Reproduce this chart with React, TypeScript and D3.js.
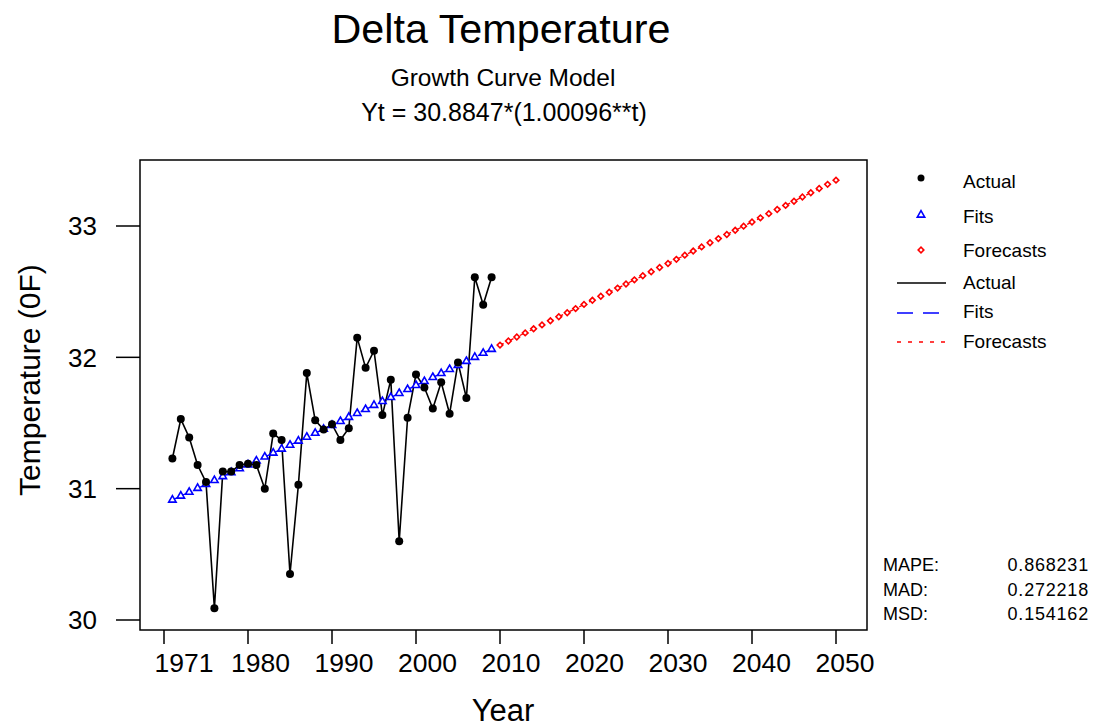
import React from "react";
import * as d3 from "d3";

const actualYears: number[] = d3.range(1971, 2010);
const actualValues: number[] = [
  31.23, 31.53, 31.39, 31.18, 31.05, 30.09, 31.13, 31.13, 31.18, 31.19,
  31.18, 31.0, 31.42, 31.37, 30.35, 31.03, 31.88, 31.52, 31.45, 31.49,
  31.37, 31.46, 32.15, 31.92, 32.05, 31.56, 31.83, 30.6, 31.54, 31.87,
  31.77, 31.61, 31.81, 31.57, 31.96, 31.69, 32.61, 32.4, 32.61,
];
const fitValues: number[] = [
  30.914, 30.944, 30.974, 31.003, 31.033, 31.063, 31.093, 31.123, 31.153, 31.182,
  31.212, 31.242, 31.272, 31.302, 31.332, 31.363, 31.393, 31.423, 31.453, 31.483,
  31.513, 31.544, 31.574, 31.604, 31.635, 31.665, 31.695, 31.726, 31.756, 31.787,
  31.817, 31.848, 31.878, 31.909, 31.94, 31.97, 32.001, 32.032, 32.062,
];
const forecastYears: number[] = d3.range(2010, 2051);
const forecastValues: number[] = [
  32.093, 32.124, 32.155, 32.186, 32.217, 32.247, 32.278, 32.309, 32.34, 32.371,
  32.403, 32.434, 32.465, 32.496, 32.527, 32.558, 32.59, 32.621, 32.652, 32.684,
  32.715, 32.746, 32.778, 32.809, 32.841, 32.872, 32.904, 32.935, 32.967, 32.999,
  33.03, 33.062, 33.094, 33.126, 33.157, 33.189, 33.221, 33.253, 33.285, 33.317,
  33.349,
];
const xTickPositions: number[] = [1970, 1980, 1990, 2000, 2010, 2020, 2030, 2040, 2050];
const xTickLabels: string[] = ["1971", "1980", "1990", "2000", "2010", "2020", "2030", "2040", "2050"];
const yTicks: number[] = [30, 31, 32, 33];
const statLabels: string[] = ["MAPE:", "MAD:", "MSD:"];
const statValues: string[] = ["0.868231", "0.272218", "0.154162"];

const FONT = "'Liberation Sans', Arial, Helvetica, sans-serif";

export default function App() {
  const W = 1098;
  const H = 728;
  const frame = { left: 140, right: 867, top: 160, bottom: 630 };
  const x = d3.scaleLinear().domain([1970, 2050]).range([164, 836]);
  const y = d3.scaleLinear().domain([30, 33]).range([620, 226]);

  const line = d3
    .line<[number, number]>()
    .x((d) => x(d[0]))
    .y((d) => y(d[1]));

  const actualPts: [number, number][] = actualYears.map((yr, i) => [yr, actualValues[i]]);
  const fitPts: [number, number][] = actualYears.map((yr, i) => [yr, fitValues[i]]);
  const fcPts: [number, number][] = forecastYears.map((yr, i) => [yr, forecastValues[i]]);

  const tri = d3.symbol().type(d3.symbolTriangle).size(24)() as string;
  const dia = d3.symbol().type(d3.symbolSquare).size(16)() as string;

  const legendMarkX = 921;
  const legendTextX = 963;

  return (
    <svg
      width={W}
      height={H}
      style={{ position: "absolute", left: 0, top: 0, background: "#fff" }}
      fontFamily={FONT}
    >
      <rect x={0} y={0} width={W} height={H} fill="#fff" />
      {/* Titles */}
      <text x={501} y={43} fontSize={41.3} textAnchor="middle" fill="#000">
        Delta Temperature
      </text>
      <text x={503} y={86} fontSize={24.5} textAnchor="middle" fill="#000">
        Growth Curve Model
      </text>
      <text x={504} y={121} fontSize={25} textAnchor="middle" fill="#000">
        Yt = 30.8847*(1.00096**t)
      </text>

      {/* Frame */}
      <rect
        x={frame.left}
        y={frame.top}
        width={frame.right - frame.left}
        height={frame.bottom - frame.top}
        fill="none"
        stroke="#000"
        strokeWidth={1.5}
      />

      {/* Y axis ticks */}
      {yTicks.map((t) => (
        <g key={"y" + t}>
          <line x1={116} x2={frame.left} y1={y(t)} y2={y(t)} stroke="#000" strokeWidth={1.5} />
          <text x={97} y={y(t)} dy="0.36em" fontSize={26} textAnchor="end" fill="#000">
            {t}
          </text>
        </g>
      ))}

      {/* X axis ticks */}
      {xTickPositions.map((t, i) => (
        <g key={"x" + t}>
          <line x1={x(t)} x2={x(t)} y1={frame.bottom} y2={frame.bottom + 14} stroke="#000" strokeWidth={1.5} />
          <text x={x(t) + (i === 0 ? 20 : 13 - i * 0.5)} y={672} fontSize={26.5} textAnchor="middle" fill="#000">
            {xTickLabels[i]}
          </text>
        </g>
      ))}

      {/* Axis titles */}
      <text x={503} y={721} fontSize={31} textAnchor="middle" fill="#000">
        Year
      </text>
      <text
        transform={`translate(40, 380) rotate(-90)`}
        fontSize={30}
        textAnchor="middle"
        fill="#000"
      >
        Temperature (0F)
      </text>

      {/* Fits line + markers */}
      <path d={line(fitPts) || ""} fill="none" stroke="#0000ff" strokeWidth={1.3} strokeDasharray="16,10" />
      {/* Forecast line */}
      <path d={line(fcPts) || ""} fill="none" stroke="#ff0000" strokeWidth={1.3} strokeDasharray="4,7" />
      {/* Actual line */}
      <path d={line(actualPts) || ""} fill="none" stroke="#000" strokeWidth={1.6} />

      {fitPts.map((d, i) => (
        <path
          key={"f" + i}
          d={tri}
          transform={`translate(${x(d[0])},${y(d[1])})`}
          fill="#fff"
          stroke="#0000ff"
          strokeWidth={1.6}
        />
      ))}
      {fcPts.map((d, i) => (
        <path
          key={"c" + i}
          d={dia}
          transform={`translate(${x(d[0])},${y(d[1])}) rotate(45)`}
          fill="#fff"
          stroke="#ff0000"
          strokeWidth={1.6}
        />
      ))}
      {actualPts.map((d, i) => (
        <circle key={"a" + i} cx={x(d[0])} cy={y(d[1])} r={4} fill="#000" />
      ))}

      {/* Legend */}
      <circle cx={legendMarkX} cy={178} r={3.5} fill="#000" />
      <text x={legendTextX} y={188} fontSize={19} fill="#000">Actual</text>
      <path d={tri} transform={`translate(${legendMarkX},215)`} fill="#fff" stroke="#0000ff" strokeWidth={1.6} />
      <text x={legendTextX} y={223} fontSize={19} fill="#000">Fits</text>
      <path d={dia} transform={`translate(${legendMarkX},250) rotate(45)`} fill="#fff" stroke="#ff0000" strokeWidth={1.6} />
      <text x={legendTextX} y={257} fontSize={19} fill="#000">Forecasts</text>

      <line x1={897} x2={946} y1={283} y2={283} stroke="#000" strokeWidth={1.5} />
      <text x={legendTextX} y={289} fontSize={19} fill="#000">Actual</text>
      <line x1={897} x2={946} y1={313} y2={313} stroke="#0000ff" strokeWidth={1.5} strokeDasharray="16,10" />
      <text x={legendTextX} y={318} fontSize={19} fill="#000">Fits</text>
      <line x1={897} x2={946} y1={342} y2={342} stroke="#ff0000" strokeWidth={1.5} strokeDasharray="4,7" />
      <text x={legendTextX} y={348} fontSize={19} fill="#000">Forecasts</text>

      {/* Accuracy measures */}
      {statLabels.map((s, i) => (
        <g key={s}>
          <text x={883} y={571 + i * 24.5} fontSize={18} fill="#000">{s}</text>
          <text x={1089} y={571 + i * 24.5} fontSize={18} textAnchor="end" letterSpacing={0.8} fill="#000">
            {statValues[i]}
          </text>
        </g>
      ))}
    </svg>
  );
}
